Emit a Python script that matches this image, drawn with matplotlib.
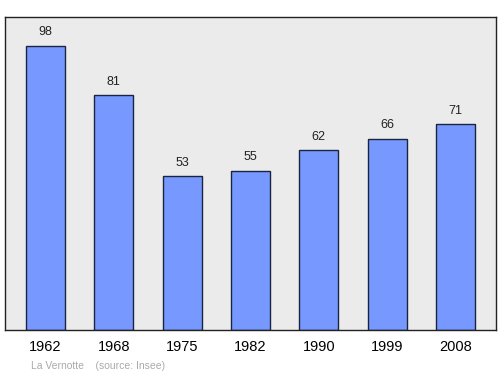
import matplotlib.pyplot as plt

plt.rcParams['font.family'] = ['Liberation Sans', 'DejaVu Sans']

years = ['1962', '1968', '1975', '1982', '1990', '1999', '2008']
population = [98, 81, 53, 55, 62, 66, 71]

fig = plt.figure(figsize=(5, 3.74), dpi=100)
ax = fig.add_axes([0.01, 0.1176, 0.982, 0.837])
ax.set_facecolor('#ebebeb')

x = range(len(years))
ax.bar(x, population, width=0.57, color='#7799ff', edgecolor='#1a2440', linewidth=1)
for i, v in zip(x, population):
    ax.text(i, v + 2.6, str(v), ha='center', va='bottom', fontsize=9, color='#222222')

ax.set_xlim(-0.593, 6.593)
ax.set_ylim(0, 108)
ax.set_xticks(list(x))
ax.set_xticklabels(years, fontsize=10.5)
ax.tick_params(axis='x', length=0, pad=7.5)
ax.set_yticks([])
for s in ax.spines.values():
    s.set_color('#222222')
    s.set_linewidth(1)

fig.text(0.062, 0.014, 'La Vernotte    (source: Insee)', fontsize=7.5, color='#aaaaaa')

fig.savefig('out.png', dpi=100)
